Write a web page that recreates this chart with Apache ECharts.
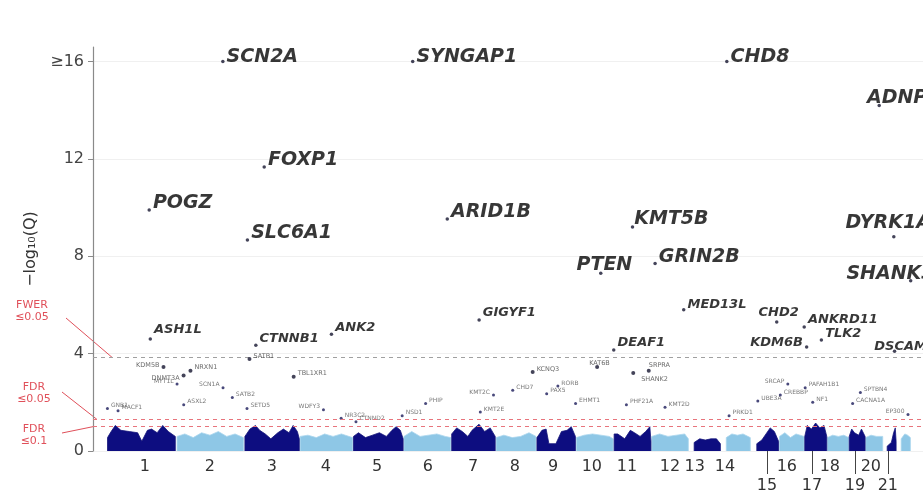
<!DOCTYPE html>
<html>
<head>
<meta charset="utf-8">
<script src="https://cdn.jsdelivr.net/npm/echarts@6/dist/echarts.min.js"></script>
<style>
  html, body { margin: 0; padding: 0; background: #ffffff; }
  #chart { width: 923px; height: 495px; }
</style>
</head>
<body>
<div id="chart"></div>
<script>
// ---- Genome layout (hg19 chromosome lengths, Mb) ----
const chromNames = ['1','2','3','4','5','6','7','8','9','10','11','12','13','14','15','16','17','18','19','20','21','22'];
const chromLengthMb = [249.25, 243.20, 198.02, 191.15, 180.92, 171.12, 159.14, 146.36, 141.21, 135.53, 135.01,
                       133.85, 115.17, 107.35, 102.53, 90.35, 81.20, 78.08, 59.13, 63.03, 48.13, 51.30];
// where each chromosome number is printed along the concatenated genome (Mb)
const chromTickMb = [136, 369, 591, 785, 968, 1150, 1312, 1462, 1599, 1738, 1864, 2018, 2107, 2215, 2366,
                     2437, 2527, 2591, 2681, 2738, 2799, 2853];
// numbers printed on a second row, hung from the axis by a short stem
const chromLowerRow = ['15', '17', '19', '21'];

// ---- Significance thresholds (-log10 Q) ----
const fwerLevel = 3.85;
const fdr05Level = 1.30;
const fdr10Level = 1.00;
const yCap = 16;

// ---- Named genes: chromosome, position (Mb), -log10(Q) (capped at 16) ----
const geneNames = ['SCN2A','SYNGAP1','CHD8','ADNP','FOXP1','POGZ','SLC6A1','ARID1B','KMT5B','DYRK1A','SHANK3','PTEN','GRIN2B',
                   'ASH1L','CTNNB1','ANK2','GIGYF1','DEAF1','MED13L','CHD2','ANKRD11','TLK2','KDM6B','DSCAM',
                   'KDM5B','DNMT3A','NRXN1','SATB1','TBL1XR1','KCNQ3','KAT6B','SRPRA','SHANK2'];
const geneChrom = [2, 6, 14, 20, 3, 1, 3, 6, 11, 21, 22, 10, 12,
                   1, 3, 4, 7, 11, 12, 15, 16, 17, 17, 21,
                   1, 2, 2, 3, 3, 8, 10, 11, 11];
const genePosMb = [166.2, 33.4, 21.9, 49.5, 71.2, 151.4, 11.0, 157.3, 67.9, 38.8, 51.1, 89.6, 13.8,
                   155.4, 41.2, 114.2, 100.3, 0.65, 116.4, 93.4, 89.4, 60.6, 7.75, 41.4,
                   202.7, 25.5, 50.1, 18.4, 176.8, 133.1, 76.6, 126.1, 70.5];
const geneNegLogQ = [16, 16, 16, 14.2, 11.67, 9.9, 8.67, 9.53, 9.2, 8.8, 7.0, 7.3, 7.7,
                     4.6, 4.35, 4.8, 5.38, 4.15, 5.8, 5.3, 5.1, 4.56, 4.27, 4.1,
                     3.45, 3.1, 3.3, 3.78, 3.05, 3.25, 3.45, 3.3, 3.2];

// ---- Genes passing FDR but not FWER (small captions) ----
const suggestNames = ['MYT1L','SCN1A','SATB2','SETD5','GNB1','MACF1','ASXL2','WDFY3','NR3C2','CTNND2',
                      'PHIP','NSD1','KMT2E','KMT2C','CHD7','PAX5','RORB','EHMT1','PHF21A','KMT2D',
                      'PRKD1','UBE3A','CREBBP','SRCAP','PAFAH1B1','NF1','SPTBN4','CACNA1A','EP300'];
const suggestChrom = [2, 2, 2, 3, 1, 1, 2, 4, 4, 5,
                      6, 5, 7, 7, 8, 9, 9, 9, 11, 12,
                      14, 15, 16, 16, 17, 17, 19, 19, 22];
const suggestPosMb = [2.0, 166.8, 200.2, 9.5, 1.7, 39.8, 25.9, 85.6, 149.0, 11.0,
                      79.6, 176.6, 104.6, 151.9, 61.6, 37.0, 77.0, 140.6, 46.0, 49.4,
                      30.0, 25.6, 3.8, 30.7, 2.5, 29.5, 41.0, 13.3, 41.5];
const suggestNegLogQ = [2.75, 2.6, 2.2, 1.75, 1.75, 1.65, 1.9, 1.7, 1.35, 1.2,
                        1.95, 1.45, 1.6, 2.3, 2.5, 2.35, 2.67, 1.95, 1.9, 1.8,
                        1.45, 2.05, 2.3, 2.75, 2.6, 2.0, 2.4, 1.95, 1.5];

// ---- Dense bulk of genes near Q≈1: upper envelope per chromosome, [Mb, -log10 Q] ----
const bulkOdd = {
  1:  [[2,0.55],[15,0.8],[30,1.05],[50,0.85],[80,0.8],[110,0.75],[125,0.4],[145,0.85],[160,0.9],[180,0.75],[200,1.05],[220,0.8],[245,0.6]],
  3:  [[2,0.6],[20,0.9],[40,1.05],[55,0.85],[75,0.7],[95,0.5],[120,0.75],[140,0.9],[160,0.75],[175,1.05],[190,0.8],[197,0.5]],
  5:  [[2,0.6],[20,0.75],[45,0.55],[70,0.65],[95,0.75],[120,0.6],[140,0.85],[155,1.0],[170,0.85],[180,0.5]],
  7:  [[2,0.7],[20,0.95],[40,0.8],[60,0.6],[75,0.85],[100,1.1],[120,0.8],[140,0.95],[158,0.6]],
  9:  [[2,0.55],[20,0.85],[35,0.9],[45,0.3],[70,0.3],[90,0.8],[110,0.85],[125,1.0],[140,0.6]],
  11: [[2,0.7],[15,0.7],[40,0.5],[60,0.85],[75,0.75],[95,0.6],[115,0.8],[130,1.0],[134,0.4]],
  13: [[20,0.35],[40,0.5],[60,0.45],[80,0.5],[100,0.5],[114,0.3]],
  15: [[22,0.3],[40,0.45],[55,0.7],[70,0.95],[85,0.8],[100,0.4]],
  17: [[1,0.6],[10,1.05],[25,0.9],[40,1.15],[55,0.95],[70,1.05],[80,0.6]],
  19: [[1,0.6],[10,0.9],[20,0.75],[35,0.65],[45,0.9],[58,0.6]],
  21: [[15,0.2],[30,0.35],[38,0.75],[44,0.95],[47,0.4]]
};
const bulkEven = {
  2:  [[2,0.6],[30,0.7],[60,0.55],[90,0.75],[120,0.65],[150,0.8],[180,0.6],[210,0.7],[240,0.55]],
  4:  [[2,0.6],[30,0.65],[60,0.55],[90,0.7],[120,0.6],[150,0.7],[190,0.55]],
  6:  [[2,0.6],[30,0.8],[60,0.6],[90,0.65],[120,0.7],[150,0.6],[170,0.55]],
  8:  [[2,0.55],[30,0.65],[60,0.55],[90,0.6],[120,0.75],[145,0.6]],
  10: [[2,0.55],[30,0.65],[60,0.7],[90,0.65],[120,0.6],[134,0.5]],
  12: [[2,0.6],[30,0.7],[60,0.6],[90,0.65],[120,0.7],[133,0.5]],
  14: [[20,0.55],[40,0.7],[60,0.65],[80,0.7],[106,0.55]],
  16: [[1,0.6],[20,0.75],[40,0.55],[60,0.7],[89,0.6]],
  18: [[1,0.55],[20,0.65],[40,0.6],[60,0.65],[77,0.55]],
  20: [[1,0.55],[20,0.65],[40,0.6],[62,0.6]],
  22: [[17,0.5],[30,0.7],[40,0.65],[50,0.55]]
};

// ---- Helpers ----
const chromOffset = [];
(function () { let acc = 0; chromLengthMb.forEach(function (l) { chromOffset.push(acc); acc += l; }); })();
const genomePos = function (chrom, mb) { return chromOffset[chrom - 1] + mb; };
const tickLookup = {};
chromTickMb.forEach(function (v, i) { tickLookup[v] = chromNames[i]; });
const lowerRowTicks = chromTickMb.filter(function (v, i) { return chromLowerRow.indexOf(chromNames[i]) >= 0; });

function bulkSeriesData(profiles) {
  const out = [];
  Object.keys(profiles).map(Number).sort(function (a, b) { return a - b; }).forEach(function (c) {
    const pts = profiles[c];
    out.push([genomePos(c, pts[0][0]), 0]);
    pts.forEach(function (p) { out.push([genomePos(c, p[0]), p[1]]); });
    out.push([genomePos(c, pts[pts.length - 1][0]), 0]);
    out.push([genomePos(c, pts[pts.length - 1][0]) + 0.5, null]);
  });
  return out;
}

// label placement per gene (text nudges around the dot)
const labelNudge = {
  SCN2A: { position: 'right', offset: [0, -5] },
  SYNGAP1: { position: 'right', offset: [0, -5] },
  CHD8: { position: 'right', offset: [0, -5] },
  ADNP: { position: 'right', offset: [-16, -7] },
  DYRK1A: { position: 'right', offset: [-52, -14] },
  SHANK3: { position: 'right', offset: [-68, -7] },
  PTEN: { position: 'right', offset: [-28, -8] },
  KMT5B: { position: 'right', offset: [-2, -8] },
  ASH1L: { position: 'right', offset: [0, -9] },
  MED13L: { position: 'right', offset: [0, -5] },
  TLK2: { position: 'right', offset: [0, -6] },
  CHD2: { position: 'right', offset: [-22, -9] },
  KDM6B: { position: 'left', offset: [0, -4] },
  DSCAM: { position: 'right', offset: [-24, -5] },
  KDM5B: { position: 'left', offset: [0, -2] },
  DNMT3A: { position: 'left', offset: [0, 3] },
  KAT6B: { position: 'right', offset: [-12, -4] },
  SHANK2: { position: 'right', offset: [4, 6] },
  SRPRA: { position: 'right', offset: [-4, -5] }
};
// small captions drawn on the left of their dot
const suggestOnLeft = ['MYT1L', 'SCN1A', 'WDFY3', 'KMT2C', 'SRCAP', 'EP300'];

const FONT = '"DejaVu Sans", "Liberation Sans", sans-serif';
const geneData = geneNames.map(function (g, i) {
  const v = Math.min(geneNegLogQ[i], yCap);
  const tier = v >= 6.5 ? 'top' : (v >= fwerLevel ? 'mid' : 'low');
  const nudge = labelNudge[g] || { position: 'right', offset: [0, tier === 'low' ? -3 : -7] };
  const label = {
    show: true,
    formatter: g,
    position: nudge.position,
    offset: nudge.offset,
    distance: 2,
    fontFamily: FONT,
    fontStyle: tier === 'low' ? 'normal' : 'italic',
    fontWeight: tier === 'low' ? 'normal' : 'bold',
    fontSize: tier === 'top' ? 19 : (tier === 'mid' ? 13 : 6.5),
    color: tier === 'low' ? '#444' : '#050505'
  };
  return { value: [genomePos(geneChrom[i], genePosMb[i]), v], name: g, label: label,
           symbolSize: tier === 'low' ? 4 : 3.5 };
});

const suggestData = suggestNames.map(function (g, i) {
  const left = suggestOnLeft.indexOf(g) >= 0;
  return {
    value: [genomePos(suggestChrom[i], suggestPosMb[i]), suggestNegLogQ[i]],
    name: g,
    label: {
      show: true, formatter: g, position: left ? 'left' : 'right', offset: [0, -3], distance: 2,
      fontFamily: FONT, fontSize: 6, color: '#555'
    }
  };
});

const chart = echarts.init(document.getElementById('chart'), null, { renderer: 'canvas' });

const option = {
  animation: false,
  backgroundColor: '#ffffff',
  grid: { left: 93, right: 0, top: 47, bottom: 44, containLabel: false, outerBoundsMode: 'none' },
  xAxis: {
    type: 'value',
    min: -50,
    max: 2925,
    name: 'Chromosome',
    nameLocation: 'middle',
    nameGap: 27,
    nameTextStyle: { fontFamily: FONT, fontSize: 16, color: '#333', verticalAlign: 'top' },
    axisLine: { show: false, onZero: false },
    splitLine: { show: false },
    axisTick: { show: true, customValues: lowerRowTicks, length: 23, lineStyle: { color: '#444', width: 1 } },
    axisLabel: {
      customValues: chromTickMb,
      margin: 6,
      fontFamily: FONT,
      fontSize: 16,
      lineHeight: 19,
      color: '#333',
      formatter: function (v) {
        const name = tickLookup[v] || '';
        return chromLowerRow.indexOf(name) >= 0 ? '\n' + name : name;
      }
    }
  },
  yAxis: {
    type: 'value',
    min: 0,
    max: 16.6,
    interval: 2,
    name: '\u2212log\u2081\u2080(Q)',
    nameLocation: 'middle',
    nameGap: 38,
    nameTextStyle: { fontFamily: FONT, fontSize: 16, color: '#333' },
    axisLine: { show: true, onZero: false, lineStyle: { color: '#8a8a8a', width: 1.2 } },
    axisTick: { show: true, customValues: [0, 4, 8, 12, 16], length: 5, lineStyle: { color: '#8a8a8a' } },
    axisLabel: {
      customValues: [0, 4, 8, 12, 16],
      margin: 9,
      fontFamily: FONT,
      fontSize: 16,
      color: '#444',
      formatter: function (v) { return v >= yCap ? '\u2265' + yCap : String(v); }
    },
    splitLine: { show: true, lineStyle: { color: '#f0f0f0', width: 1 } }
  },
  series: [
    {
      name: 'even chromosomes',
      type: 'line',
      data: bulkSeriesData(bulkEven),
      symbol: 'none',
      connectNulls: false,
      lineStyle: { width: 0.8, color: '#a9d6ee' },
      areaStyle: { color: '#8ec7e6', opacity: 1 },
      silent: true,
      z: 2
    },
    {
      name: 'odd chromosomes',
      type: 'line',
      data: bulkSeriesData(bulkOdd),
      symbol: 'none',
      connectNulls: false,
      lineStyle: { width: 0.8, color: '#15157a' },
      areaStyle: { color: '#0d0d80', opacity: 1 },
      silent: true,
      z: 3
    },
    {
      name: 'FDR genes',
      type: 'scatter',
      data: suggestData,
      symbol: 'circle',
      symbolSize: 3,
      itemStyle: { color: '#1c1c5a' },
      z: 4
    },
    {
      name: 'genes',
      type: 'scatter',
      data: geneData,
      symbol: 'circle',
      itemStyle: { color: '#151530' },
      z: 5,
      markLine: {
        silent: true,
        symbol: 'none',
        label: { show: false },
        data: [
          { yAxis: fwerLevel, lineStyle: { color: '#a0a0a0', type: [4, 4], width: 1 } },
          { yAxis: fdr05Level, lineStyle: { color: '#e8747c', type: [4, 4], width: 1 } },
          { yAxis: fdr10Level, lineStyle: { color: '#e8747c', type: [4, 4], width: 1 } }
        ]
      }
    }
  ]
};
chart.setOption(option);

// threshold captions on the left margin, each tied to its line
const captionColor = '#e0505a';
const captions = [
  { text: 'FWER\n\u22640.05', at: [32, 311], from: [66, 318], to: [18, fwerLevel] },
  { text: 'FDR\n\u22640.05', at: [34, 393], from: [62, 392], to: [-36, fdr05Level] },
  { text: 'FDR\n\u22640.1', at: [34, 435], from: [62, 433], to: [-50, fdr10Level] }
];
const graphics = [];
captions.forEach(function (c) {
  const end = chart.convertToPixel({ gridIndex: 0 }, c.to);
  graphics.push({
    type: 'text', x: c.at[0], y: c.at[1], silent: true,
    style: { text: c.text, fill: captionColor, font: '11px ' + FONT, align: 'center', verticalAlign: 'middle', lineHeight: 12 }
  });
  graphics.push({
    type: 'line', silent: true,
    shape: { x1: c.from[0], y1: c.from[1], x2: end[0], y2: end[1] },
    style: { stroke: captionColor, lineWidth: 1 }
  });
});
chart.setOption({ graphic: graphics });
</script>
</body>
</html>
